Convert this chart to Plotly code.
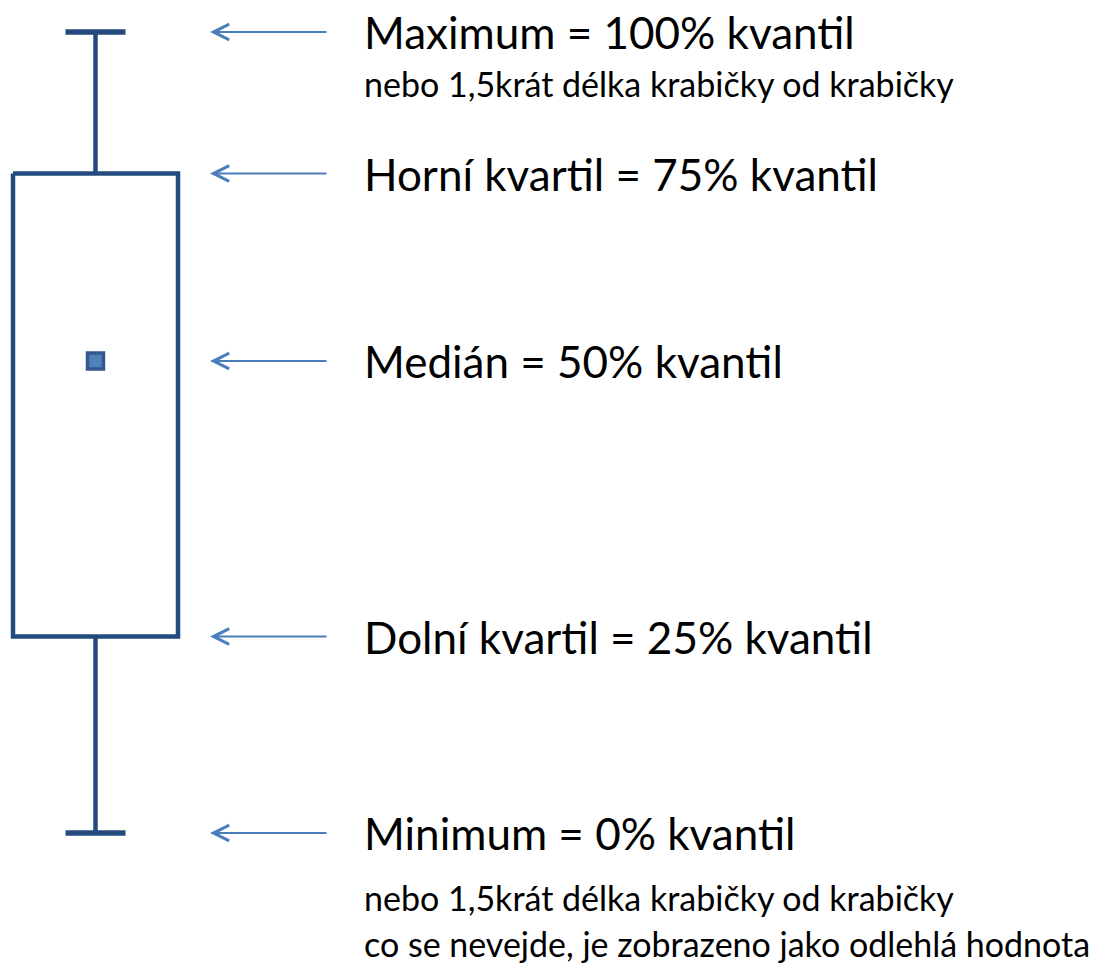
import plotly.graph_objects as go

# Box-plot statistics (value axis: 0 at bottom of canvas, 963 at top)
stat_names = ["Minimum", "Dolní kvartil", "Medián", "Horní kvartil", "Maximum"]
stat_values = [130, 326.5, 602, 789.5, 931]

label_main = [
    "Minimum = 0% kvantil",
    "Dolní kvartil = 25% kvantil",
    "Medián = 50% kvantil",
    "Horní kvartil = 75% kvantil",
    "Maximum = 100% kvantil",
]
note_max = ["nebo 1,5krát délka krabičky od krabičky"]
note_min = [
    "nebo 1,5krát délka krabičky od krabičky",
    "co se nevejde, je zobrazeno jako odlehlá hodnota",
]

vmin, q1, med, q3, vmax = stat_values

BOX_COLOR = "#244B7E"
ARROW_COLOR = "#4A7EBB"
FONT = "Lato"

W, H = 1107, 963
box_left, box_right, box_mid = 13, 178, 95.5
cap_half = 30

fig = go.Figure()
line_style = dict(color=BOX_COLOR, width=4.5)

# Box
fig.add_trace(go.Scatter(
    x=[box_left, box_right, box_right, box_left, box_left],
    y=[q3, q3, q1, q1, q3],
    mode="lines", line=line_style, hoverinfo="skip", showlegend=False))
# Whiskers
fig.add_trace(go.Scatter(x=[box_mid, box_mid], y=[q3, vmax], mode="lines",
                         line=line_style, hoverinfo="skip", showlegend=False))
fig.add_trace(go.Scatter(x=[box_mid, box_mid], y=[q1, vmin], mode="lines",
                         line=line_style, hoverinfo="skip", showlegend=False))
# Caps
for v in (vmax, vmin):
    fig.add_trace(go.Scatter(x=[box_mid - cap_half, box_mid + cap_half], y=[v, v],
                             mode="lines", line=dict(color=BOX_COLOR, width=5.5),
                             hoverinfo="skip", showlegend=False))
# Median marker
fig.add_trace(go.Scatter(x=[box_mid], y=[med], mode="markers",
                         marker=dict(symbol="square", size=16, color="#4F81BD",
                                     line=dict(color="#35598C", width=3.5)),
                         hoverinfo="skip", showlegend=False))

annotations = []
arrow_tip, arrow_tail, text_x = 210, 328, 362
for v, lab in zip(stat_values, label_main):
    annotations.append(dict(
        x=arrow_tip, y=v, ax=arrow_tail, ay=v, xref="x", yref="y",
        axref="x", ayref="y", text="", showarrow=True, arrowhead=5,
        arrowsize=1.55, arrowwidth=2, arrowcolor=ARROW_COLOR, standoff=0))
    annotations.append(dict(
        x=text_x, y=v, xref="x", yref="y", text=lab, showarrow=False,
        xanchor="left", yanchor="middle",
        font=dict(family=FONT, size=44, color="#000000")))

annotations.append(dict(
    x=text_x, y=vmax - 51, xref="x", yref="y", text=note_max[0], showarrow=False,
    xanchor="left", yanchor="middle", font=dict(family=FONT, size=34, color="#000000")))
for i, t in enumerate(note_min):
    annotations.append(dict(
        x=text_x, y=vmin - 64 - 46 * i, xref="x", yref="y", text=t, showarrow=False,
        xanchor="left", yanchor="middle", font=dict(family=FONT, size=34, color="#000000")))

fig.update_layout(
    width=W, height=H,
    margin=dict(l=0, r=0, t=0, b=0),
    paper_bgcolor="white", plot_bgcolor="white",
    xaxis=dict(range=[0, W], visible=False, fixedrange=True),
    yaxis=dict(range=[0, H], visible=False, fixedrange=True),
    annotations=annotations,
    showlegend=False,
)

fig.write_html("out.html", config={"displayModeBar": False},
               post_script="document.body.style.margin='0';document.body.style.overflow='hidden';")
